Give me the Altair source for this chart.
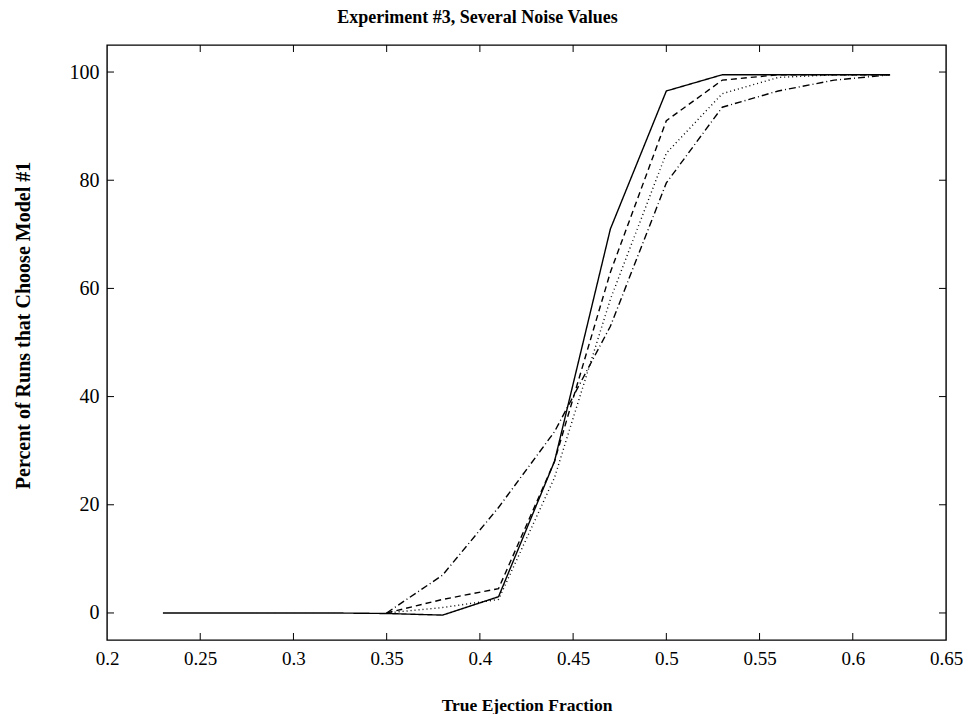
import altair as alt
import pandas as pd

x_all = [0.23, 0.26, 0.29, 0.32, 0.35, 0.38, 0.41, 0.44, 0.47, 0.50, 0.53, 0.56, 0.59, 0.62]
x_sub = [0.35, 0.38, 0.41, 0.44, 0.47, 0.50, 0.53, 0.56, 0.59, 0.62]

solid = [0, 0, 0, 0, -0.1, -0.4, 3, 28, 71, 96.5, 99.5, 99.5, 99.5, 99.5]
dashed = [0, 2.5, 4.5, 28, 63, 91, 98.5, 99.5, 99.5, 99.5]
dotted = [0, 1, 2.5, 25, 58, 85, 96, 99, 99.5, 99.5]
dashdot = [0, 7, 19.5, 33.5, 53, 79.5, 93.5, 96.5, 98.5, 99.5]

x_ticks = [0.2, 0.25, 0.3, 0.35, 0.4, 0.45, 0.5, 0.55, 0.6, 0.65]
y_ticks = [0, 20, 40, 60, 80, 100]

rows = []
for xv, yv in zip(x_all, solid):
    rows.append({"x": xv, "y": yv, "s": "solid"})
for name, vals in [("dashed", dashed), ("dotted", dotted), ("dashdot", dashdot)]:
    for xv, yv in zip(x_sub, vals):
        rows.append({"x": xv, "y": yv, "s": name})
df = pd.DataFrame(rows)

W, H = 839, 595
FONT = "Liberation Serif"
xs = alt.Scale(domain=[0.2, 0.65], nice=False, zero=False)
ys = alt.Scale(domain=[-5, 105], nice=False, zero=False)

lines = alt.Chart(df).mark_line(color="black", strokeWidth=1.4).encode(
    x=alt.X("x:Q", scale=xs,
            axis=alt.Axis(values=x_ticks, format="~g", title="True Ejection Fraction",
                          ticks=False, domain=False, grid=False, labelPadding=9,
                          titlePadding=28, labelFontSize=19, titleFontSize=17.5,
                          labelFont=FONT, titleFont=FONT, titleFontWeight="bold",
                          labelColor="black", titleColor="black",
                          labelFlush=False)),
    y=alt.Y("y:Q", scale=ys,
            axis=alt.Axis(values=y_ticks, title="Percent of Runs that Choose Model #1",
                          ticks=False, domain=False, grid=False, labelPadding=8,
                          titlePadding=36, labelFontSize=20, titleFontSize=20,
                          labelFont=FONT, titleFont=FONT, titleFontWeight="bold",
                          labelColor="black", titleColor="black", titleY=280)),
    strokeDash=alt.StrokeDash("s:N",
                              scale=alt.Scale(domain=["solid", "dashed", "dotted", "dashdot"],
                                              range=[[1, 0], [6, 4], [1, 3], [7, 3, 1, 3]]),
                              legend=None),
)

xt = pd.DataFrame({"x": x_ticks[1:-1]})
yt = pd.DataFrame({"y": y_ticks})

xb = alt.Chart(xt).mark_rule(color="black", strokeWidth=1).encode(
    x=alt.X("x:Q", scale=xs), y=alt.value(H), y2=alt.value(H - 7))
xtop = alt.Chart(xt).mark_rule(color="black", strokeWidth=1).encode(
    x=alt.X("x:Q", scale=xs), y=alt.value(0), y2=alt.value(7))
yl = alt.Chart(yt).mark_rule(color="black", strokeWidth=1).encode(
    y=alt.Y("y:Q", scale=ys), x=alt.value(0), x2=alt.value(7))
yr = alt.Chart(yt).mark_rule(color="black", strokeWidth=1).encode(
    y=alt.Y("y:Q", scale=ys), x=alt.value(W), x2=alt.value(W - 7))

chart = alt.layer(lines, xb, xtop, yl, yr).properties(
    width=W, height=H,
    background="white",
    title=alt.TitleParams("Experiment #3, Several Noise Values", font=FONT, fontSize=18,
                          fontWeight="bold", color="black", anchor="middle", dx=-49,
                          offset=18),
    padding={"left": 5, "top": 0, "right": 0, "bottom": 0},
).configure_view(stroke="black", strokeWidth=1.4)

chart.save("out.html", embed_options={"renderer": "svg", "actions": False})
